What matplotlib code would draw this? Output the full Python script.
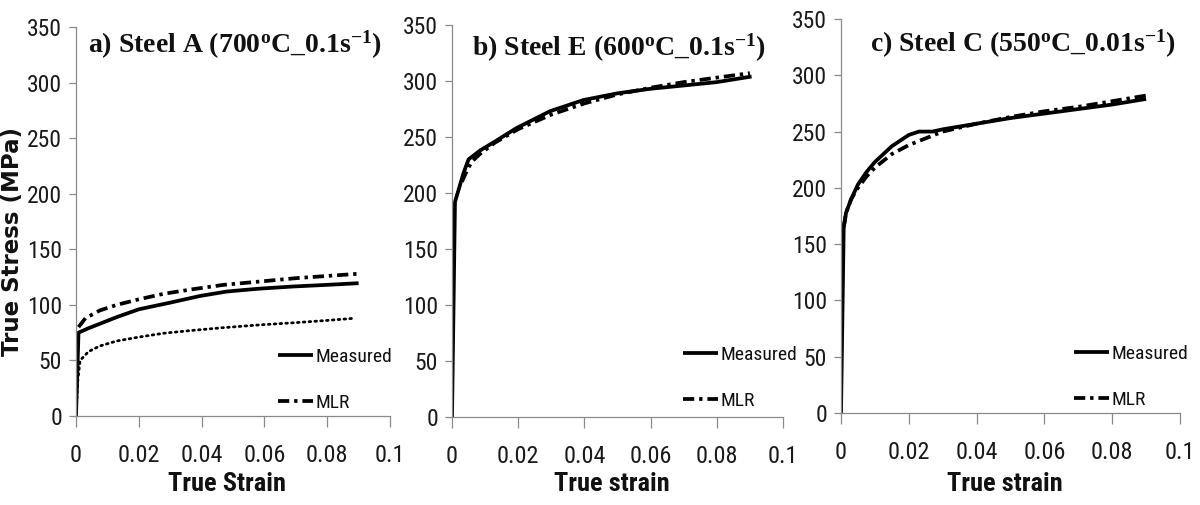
import matplotlib
matplotlib.use("Agg")
import matplotlib.pyplot as plt
from matplotlib import font_manager as fm

avail = {f.name for f in fm.fontManager.ttflist}
def pick(*names):
    for n in names:
        if n in avail:
            return n
    return "DejaVu Sans"

NARROW = pick("Liberation Sans Narrow", "Roboto Condensed", "Open Sans Condensed", "Liberation Sans")
SERIF = pick("Liberation Serif", "DejaVu Serif")

plt.rcParams["mathtext.fontset"] = "custom"
plt.rcParams["mathtext.rm"] = SERIF + ":bold"
plt.rcParams["mathtext.bf"] = SERIF + ":bold"
plt.rcParams["mathtext.it"] = SERIF + ":bold"

# ---------------- data ----------------
titles = [r"a) Steel A (700$^{o}$C_0.1s$^{-1}$)",
          r"b) Steel E (600$^{o}$C_0.1s$^{-1}$)",
          r"c) Steel C (550$^{o}$C_0.01s$^{-1}$)"]
xlabels = ["True Strain", "True strain", "True strain"]
ylabel = "True Stress (MPa)"
xticks = [0, 0.02, 0.04, 0.06, 0.08, 0.1]
xticklabels = ["0", "0.02", "0.04", "0.06", "0.08", "0.1"]
yticks = [0, 50, 100, 150, 200, 250, 300, 350]

# Panel a
a_meas_x = [0, 0.0008, 0.004, 0.0076, 0.013, 0.02, 0.03, 0.0395, 0.048, 0.058, 0.069, 0.08, 0.09]
a_meas_y = [0, 75, 79, 83, 89, 96, 102, 108, 112, 114.5, 116.5, 118, 119.5]
a_mlr_x = [0.0008, 0.003, 0.0076, 0.013, 0.02, 0.028, 0.037, 0.047, 0.0586, 0.07, 0.08, 0.09]
a_mlr_y = [80, 88, 95, 100, 105, 110, 114, 118, 121, 124, 126, 128]
a_dot_x = [0, 0.0005, 0.0013, 0.004, 0.0076, 0.013, 0.02, 0.028, 0.037, 0.047, 0.0586, 0.07, 0.08, 0.089]
a_dot_y = [0, 30, 50, 58, 63, 67.5, 71, 74.5, 77, 79.5, 82, 84, 86, 88]

# Panel b
b_meas_x = [0, 0.0009, 0.002, 0.0035, 0.005, 0.0085, 0.013, 0.0195, 0.0296, 0.0397, 0.05, 0.0598, 0.07, 0.08, 0.0905]
b_meas_y = [0, 192, 203, 218, 230, 238, 246, 258, 273, 283, 289, 293, 296, 299, 304]
b_mlr_x = [0.003, 0.0045, 0.006, 0.0085, 0.013, 0.02, 0.03, 0.04, 0.05, 0.06, 0.07, 0.08, 0.09]
b_mlr_y = [210, 220, 228, 235, 245, 257, 270, 280, 288, 294, 299, 303, 307]

# Panel c
c_meas_x = [0, 0.0008, 0.0015, 0.003, 0.005, 0.0075, 0.01, 0.015, 0.02, 0.023, 0.027, 0.03, 0.04, 0.05, 0.06, 0.07, 0.08, 0.09]
c_meas_y = [0, 165, 178, 190, 203, 214, 223, 237, 247, 250, 250, 252, 257, 262, 266, 270, 274, 279]
c_mlr_x = [0.0008, 0.0015, 0.003, 0.005, 0.0075, 0.01, 0.015, 0.02, 0.025, 0.03, 0.04, 0.05, 0.06, 0.07, 0.08, 0.09]
c_mlr_y = [165, 178, 190, 200, 210, 218, 230, 238, 244, 250, 257, 263, 268, 272, 277, 282]

panels = [
    (a_meas_x, a_meas_y, a_mlr_x, a_mlr_y),
    (b_meas_x, b_meas_y, b_mlr_x, b_mlr_y),
    (c_meas_x, c_meas_y, c_mlr_x, c_mlr_y),
]

# ---------------- layout ----------------
W, H = 1200, 505
fig = plt.figure(figsize=(W / 100, H / 100), dpi=100)
# pixel boxes: (x0, x1, y_bottom(0 MPa), y_top(350 MPa))
boxes = [(76, 390, 416, 27), (452, 783, 417, 25), (841, 1180, 413, 19)]
title_pos = [(235, 45), (619, 48), (1023, 44)]
legend_anchor = [(392, 412), (797, 410), (1188, 409)]

spine_col = "#8a8a8a"
dash_mlr = (0, (3.0, 1.3, 0.9, 1.3))

for i, (bx, (mx, my, lx, ly)) in enumerate(zip(boxes, panels)):
    x0, x1, yb, yt = bx
    ax = fig.add_axes([x0 / W, 1 - yb / H, (x1 - x0) / W, (yb - yt) / H])
    ax.plot(mx, my, color="black", lw=2.7, solid_capstyle="butt", label="Measured")
    ax.plot(lx, ly, color="black", lw=2.7, linestyle=dash_mlr, label="MLR")
    if i == 0:
        ax.plot(a_dot_x, a_dot_y, color="black", lw=2.0, linestyle=(0, (0.6, 1.5)),
                dash_capstyle="round")
    ax.set_xlim(0, 0.1)
    ax.set_ylim(0, 350)
    ax.set_xticks(xticks)
    ax.set_xticklabels(xticklabels)
    ax.set_yticks(yticks)
    for s in ["top", "right"]:
        ax.spines[s].set_visible(False)
    for s in ["left", "bottom"]:
        ax.spines[s].set_color(spine_col)
        ax.spines[s].set_linewidth(0.9)
    ax.tick_params(axis="x", direction="out", length=8, width=0.9, color=spine_col,
                   pad=12, labelsize=17.5, labelcolor="#1a1a1a")
    ax.tick_params(axis="y", direction="out", length=5, width=0.9, color=spine_col,
                   pad=5, labelsize=17, labelcolor="#1a1a1a")
    for lab in ax.get_xticklabels() + ax.get_yticklabels():
        lab.set_fontfamily(NARROW)
    ax.patch.set_alpha(0)

    tx, ty = title_pos[i]
    fig.text(tx / W, 1 - ty / H, titles[i], fontsize=20, fontweight="bold",
             family=SERIF, ha="center", va="center", color="#111111")
    fig.text((x0 + x1) / 2 / W - 0.005, 1 - 484 / H, xlabels[i], fontsize=19,
             fontweight="bold", family=NARROW, ha="center", va="center", color="#111111")

    lax, lay = legend_anchor[i]
    leg = ax.legend(loc="lower right", bbox_to_anchor=(lax / W, 1 - lay / H),
                    bbox_transform=fig.transFigure, frameon=False,
                    prop={"family": NARROW, "size": 14}, handlelength=1.8,
                    handletextpad=0.1, labelspacing=1.45, borderaxespad=0, borderpad=0)
    for t in leg.get_texts():
        t.set_color("#111111")

fig.text(13 / W, 1 - 241 / H, ylabel, rotation=90, fontsize=16.5, fontweight="bold",
         family="DejaVu Sans", ha="center", va="center", color="#111111")

fig.savefig("out.png", dpi=100)
